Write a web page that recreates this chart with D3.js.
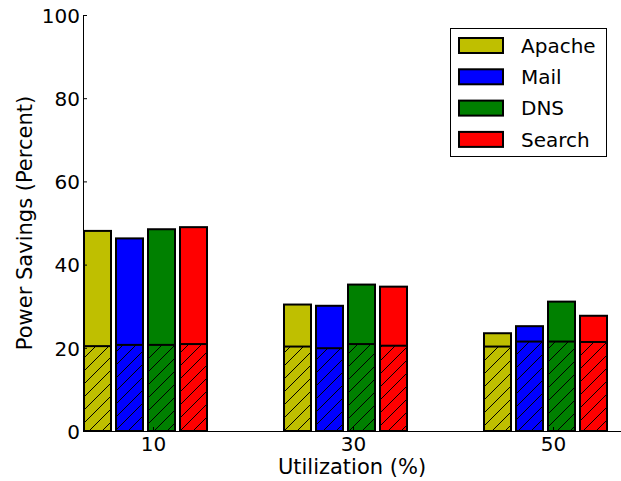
<!DOCTYPE html>
<html>
<head>
<meta charset="utf-8">
<script src="https://cdn.jsdelivr.net/npm/d3@7"></script>
<style>
  body { margin: 0; background: #fff; }
  svg { font-family: "DejaVu Sans", sans-serif; }
</style>
</head>
<body>
<svg id="canvas" width="621" height="481"></svg>
<script>
const utilization = ['10', '30', '50'];
const services = ['Apache', 'Mail', 'DNS', 'Search'];
const colors = ['#bfbf00', '#0000ff', '#008000', '#ff0000'];

// total savings per service, one array per utilization group
const totalSavings = [
  [48.1, 46.3, 48.5, 49.0],
  [30.4, 30.1, 35.2, 34.7],
  [23.5, 25.2, 31.1, 27.7]
];
// hatched (lower) part
const baseSavings = [
  [20.4, 20.7, 20.7, 20.9],
  [20.3, 19.9, 20.9, 20.5],
  [20.3, 21.5, 21.5, 21.4]
];
const yTicks = [0, 20, 40, 60, 80, 100];

const svg = d3.select('#canvas');

const BAR_W = 0.135;
const BAR_STEP = 0.16;
const TICK_OFF = 0.345;

const x = d3.scaleLinear().domain([0, 1]).range([84, 284]);
const y = d3.scaleLinear().domain([0, 100]).range([431, 15]);
const xAxisScale = d3.scaleLinear()
  .domain([x.invert(83), x.invert(621)])
  .range([83, 621]);

// hatch pattern
const defs = svg.append('defs');
const pat = defs.append('pattern')
  .attr('id', 'hatch')
  .attr('patternUnits', 'userSpaceOnUse')
  .attr('width', 13)
  .attr('height', 13);
pat.append('path')
  .attr('d', 'M-1,14 L14,-1 M-7,7 L7,-7 M6,20 L20,6')
  .attr('stroke', '#000')
  .attr('stroke-width', 1);

const bars = [];
totalSavings.forEach((row, i) => {
  row.forEach((v, j) => {
    bars.push({ g: i, s: j, total: v, base: baseSavings[i][j] });
  });
});

const barG = svg.append('g');

barG.selectAll('rect.total')
  .data(bars)
  .join('rect')
  .attr('class', 'total')
  .attr('x', d => x(d.g + d.s * BAR_STEP))
  .attr('width', x(BAR_W) - x(0))
  .attr('y', d => y(d.total))
  .attr('height', d => y(0) - y(d.total))
  .attr('fill', d => colors[d.s])
  .attr('stroke', '#000')
  .attr('stroke-width', 2);

const baseG = barG.selectAll('g.base')
  .data(bars)
  .join('g')
  .attr('class', 'base');

baseG.append('rect')
  .attr('x', d => x(d.g + d.s * BAR_STEP))
  .attr('width', x(BAR_W) - x(0))
  .attr('y', d => y(d.base))
  .attr('height', d => y(0) - y(d.base))
  .attr('fill', d => colors[d.s]);

baseG.append('rect')
  .attr('x', d => x(d.g + d.s * BAR_STEP))
  .attr('width', x(BAR_W) - x(0))
  .attr('y', d => y(d.base))
  .attr('height', d => y(0) - y(d.base))
  .attr('fill', 'url(#hatch)')
  .attr('stroke', '#000')
  .attr('stroke-width', 2);

// axes
const xAxis = d3.axisBottom(xAxisScale)
  .tickValues(utilization.map((u, i) => i + TICK_OFF))
  .tickFormat((d, i) => utilization[i])
  .tickSizeInner(-4)
  .tickSizeOuter(0)
  .tickPadding(6);

const gx = svg.append('g')
  .attr('transform', `translate(0,${y(0)})`)
  .call(xAxis);

const yAxis = d3.axisLeft(y)
  .tickValues(yTicks)
  .tickSizeInner(-4)
  .tickSizeOuter(0)
  .tickPadding(3);

const gy = svg.append('g')
  .attr('transform', `translate(83,0)`)
  .call(yAxis);

[gx, gy].forEach(g => {
  g.selectAll('text').attr('font-size', 20).attr('fill', '#000')
    .attr('font-family', '"DejaVu Sans", sans-serif');
  g.select('.domain').attr('stroke', '#000').attr('stroke-width', 1);
  g.selectAll('.tick line').attr('stroke', '#000');
});
gy.selectAll('text').attr('dy', '0.36em');

svg.append('text')
  .attr('x', 352)
  .attr('y', 474)
  .attr('text-anchor', 'middle')
  .attr('font-size', 21)
  .text('Utilization (%)');

svg.append('text')
  .attr('transform', 'translate(32,223) rotate(-90)')
  .attr('text-anchor', 'middle')
  .attr('font-size', 21)
  .text('Power Savings (Percent)');

// legend
const legend = svg.append('g');
legend.append('rect')
  .attr('x', 450.5)
  .attr('y', 28.5)
  .attr('width', 156)
  .attr('height', 128)
  .attr('fill', '#fff')
  .attr('stroke', '#000')
  .attr('stroke-width', 1);

const items = legend.selectAll('g.item')
  .data(services)
  .join('g')
  .attr('class', 'item')
  .attr('transform', (d, i) => `translate(0,${38 + i * 31.3})`);

items.append('rect')
  .attr('x', 459)
  .attr('y', 0)
  .attr('width', 44)
  .attr('height', 15)
  .attr('fill', (d, i) => colors[i])
  .attr('stroke', '#000')
  .attr('stroke-width', 2);

items.append('text')
  .attr('x', 521)
  .attr('y', 7.5)
  .attr('dy', '0.36em')
  .attr('font-size', 20)
  .text(d => d);
</script>
</body>
</html>
